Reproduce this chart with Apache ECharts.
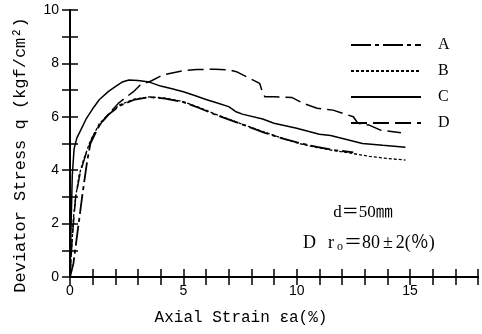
<!DOCTYPE html>
<html>
<head>
<meta charset="utf-8">
<script src="https://cdn.jsdelivr.net/npm/echarts@6/dist/echarts.min.js"></script>
<style>
  html, body { margin: 0; padding: 0; background: #fff; }
</style>
</head>
<body>
<div id="chart" style="width:482px;height:334px"></div>
<script>
// 曲線データ [axial strain %, q kgf/cm2]
const curveA = [[0,0],[0.15,0.5],[0.35,1.8],[0.55,3.1],[0.75,4.3],[0.9,5.0],[1.3,5.7],[1.7,6.08],[2.2,6.42],[2.8,6.63],[3.5,6.74],[4.2,6.68],[5.0,6.55],[5.7,6.33],[6.5,6.05],[7.2,5.84],[7.9,5.62],[8.6,5.4],[9.4,5.18],[10.1,5.02],[10.9,4.87],[11.6,4.76],[12.5,4.67]];
const curveB = [[0,0],[0.08,1.2],[0.15,2.2],[0.25,3.0],[0.4,3.8],[0.6,4.4],[0.9,5.1],[1.3,5.75],[1.7,6.1],[2.2,6.45],[2.8,6.65],[3.5,6.75],[4.2,6.7],[5.0,6.57],[5.7,6.35],[6.5,6.07],[7.2,5.85],[7.9,5.63],[8.6,5.42],[9.4,5.19],[10.1,5.0],[10.9,4.85],[11.6,4.74],[12.3,4.65],[13.2,4.52],[14.0,4.44],[14.8,4.38]];
const curveC = [[0,0],[0.05,2],[0.1,3.8],[0.18,4.8],[0.3,5.2],[0.5,5.55],[0.7,5.9],[1.0,6.3],[1.3,6.65],[1.7,6.95],[2.0,7.13],[2.3,7.3],[2.6,7.38],[3.0,7.36],[3.5,7.3],[4.0,7.15],[4.5,7.05],[5.0,6.94],[5.5,6.8],[6.0,6.65],[6.5,6.52],[7.0,6.38],[7.3,6.2],[7.6,6.1],[8.5,5.92],[9.0,5.76],[10.0,5.57],[11.0,5.35],[11.5,5.3],[12.2,5.15],[12.9,5.0],[13.8,4.93],[14.8,4.86]];
const curveD = [[0,0],[0.1,1.5],[0.25,3],[0.45,3.9],[0.7,4.6],[1.0,5.25],[1.4,5.8],[1.8,6.2],[2.13,6.5],[2.5,6.75],[2.8,6.94],[3.1,7.19],[3.6,7.35],[4.1,7.57],[5.0,7.73],[5.6,7.77],[6.4,7.78],[7.0,7.76],[7.34,7.69],[7.9,7.45],[8.37,7.25],[8.5,6.9],[8.6,6.75],[9.0,6.75],[9.8,6.72],[10.3,6.5],[10.9,6.32],[11.6,6.25],[12.5,6.0],[12.7,5.76],[13.2,5.69],[13.7,5.5],[14.6,5.4]];
const seriesNames = ['A', 'B', 'C', 'D'];
const xTickLabels = [0, 5, 10, 15];
const yTickLabels = [0, 2, 4, 6, 8, 10];

const mono = '"Liberation Mono", "DejaVu Sans Mono", monospace';
const serif = '"Liberation Serif", "Noto Sans CJK JP", serif';

const chart = echarts.init(document.getElementById('chart'));
const axisLine = { show: true, lineStyle: { color: '#000', width: 2 } };
const tick = { show: true, inside: true, length: 8, lineStyle: { color: '#000', width: 1.5 } };

chart.setOption({
  animation: false,
  grid: { left: 70, top: 10, right: 4, bottom: 57 },
  legend: {
    orient: 'vertical',
    left: 345, top: 32,
    itemWidth: 70, itemHeight: 14, itemGap: 10,
    data: seriesNames,
    itemStyle: { opacity: 0 },
    textStyle: { fontFamily: serif, fontSize: 16, color: '#000', padding: [0, 0, 0, 12] }
  },
  xAxis: [
    {
      type: 'value', min: 0, max: 18, interval: 1,
      axisLine: axisLine, axisTick: tick, splitLine: { show: false },
      axisLabel: {
        color: '#000', fontSize: 14, fontFamily: '"Liberation Sans", sans-serif', margin: 7,
        formatter: v => xTickLabels.includes(v) ? String(v) : ''
      }
    },
    {
      type: 'value', position: 'top', min: 0, max: 18, interval: 1,
      axisLine: axisLine, axisTick: tick, axisLabel: { show: false }, splitLine: { show: false }
    }
  ],
  yAxis: [
    {
      type: 'value', min: 0, max: 10, interval: 1,
      axisLine: axisLine, axisTick: tick, splitLine: { show: false },
      axisLabel: {
        color: '#000', fontSize: 14, fontFamily: '"Liberation Sans", sans-serif', margin: 11,
        formatter: v => yTickLabels.includes(v) ? String(v) : ''
      }
    },
    {
      type: 'value', position: 'right', min: 0, max: 10, interval: 1,
      axisLine: axisLine, axisTick: tick, axisLabel: { show: false }, splitLine: { show: false }
    }
  ],
  series: [
    { name: 'A', type: 'line', data: curveA, symbol: 'none', lineStyle: { color: '#000', width: 1.8, type: [20, 4, 4, 4] } },
    { name: 'B', type: 'line', data: curveB, symbol: 'none', lineStyle: { color: '#000', width: 1.3, type: [3, 2] } },
    { name: 'C', type: 'line', data: curveC, symbol: 'none', lineStyle: { color: '#000', width: 1.5, type: 'solid' } },
    { name: 'D', type: 'line', data: curveD, symbol: 'none', lineStyle: { color: '#000', width: 1.5, type: [16, 6] } }
  ],
  graphic: [
    {
      type: 'text', x: 20, y: 155, rotation: Math.PI / 2,
      style: { text: 'Deviator Stress q (kgf/cm²)', font: '17px ' + mono, fill: '#000', align: 'center', verticalAlign: 'middle' }
    },
    {
      type: 'text', x: 241, y: 318,
      style: { text: 'Axial Strain εa(%)', font: '16px ' + mono, fill: '#000', align: 'center', verticalAlign: 'middle' }
    },
    {
      type: 'text', x: 363, y: 213,
      style: { text: 'd＝50㎜', font: '17px ' + serif, fill: '#000', align: 'center', verticalAlign: 'middle' }
    },
    {
      type: 'text', x: 303, y: 243,
      style: {
        text: '{a|D}{b|r}{s|o}{a|＝80}{p|±}{a|2(％)}',
        verticalAlign: 'middle',
        rich: {
          a: { font: '18px ' + serif, fill: '#000' },
          b: { font: '18px ' + serif, fill: '#000', padding: [0, 0, 0, 12] },
          p: { font: '18px ' + serif, fill: '#000', padding: [0, 3, 0, 3] },
          s: { font: '12px ' + serif, fill: '#000', padding: [7, 1, 0, 3] }
        }
      }
    }
  ]
});
</script>
</body>
</html>
